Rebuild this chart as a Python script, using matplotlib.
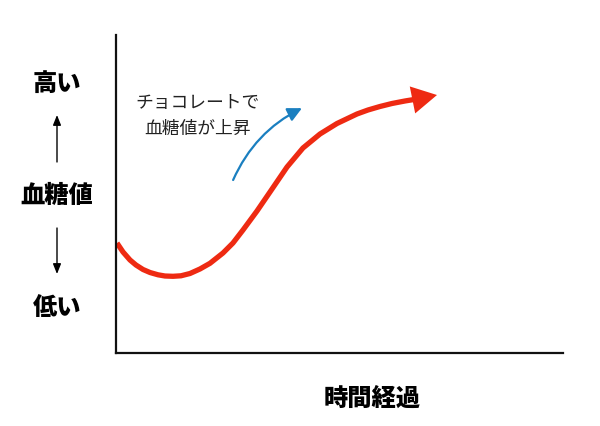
import matplotlib.pyplot as plt
from matplotlib.patches import FancyArrowPatch

plt.rcParams['font.family'] = ['Noto Sans CJK JP', 'DejaVu Sans']

# red curve: time (0-100) vs blood sugar (0-100)
curve_t = [0.22, 1.57, 3.13, 4.47, 6.04, 7.61, 9.40, 10.96, 12.75, 14.54, 16.55, 18.79, 21.03,
           23.94, 26.17, 28.41, 31.54, 34.45, 38.26, 41.83, 45.64, 49.44, 53.91, 56.38, 59.06,
           61.74, 64.65, 67.34]
curve_g = [34.59, 31.76, 29.25, 27.67, 26.26, 25.31, 24.59, 24.21, 24.12, 24.28, 25.0, 26.42, 28.21,
           31.45, 34.59, 38.68, 44.65, 50.63, 58.49, 64.47, 68.87, 72.17, 75.16, 76.42, 77.52,
           78.46, 79.25, 79.87]
curve_tip = (71.81, 81.13)

# blue arrow
blue_start = (26.2, 54.4)
blue_end = (41.6, 77.0)

note_text = 'チョコレートで\n血糖値が上昇'
x_label = '時間経過'
y_labels = ['高い', '血糖値', '低い']

red = '#ee2a12'
blue = '#1a7fc0'

fig = plt.figure(figsize=(6, 4.26), dpi=100)
ax = fig.add_axes([116 / 600, 73 / 426, 447 / 600, 318 / 426])
ax.set_xlim(0, 100)
ax.set_ylim(0, 100)
for s in ['top', 'right']:
    ax.spines[s].set_visible(False)
for s in ['left', 'bottom']:
    ax.spines[s].set_linewidth(1.6)
    ax.spines[s].set_color('#111111')
ax.set_xticks([])
ax.set_yticks([])

ax.plot(curve_t, curve_g, color=red, lw=3.8, solid_capstyle='butt', solid_joinstyle='round')
ax.annotate('', xy=curve_tip, xytext=(curve_t[-1], curve_g[-1]),
            arrowprops=dict(arrowstyle='-|>,head_length=1.0,head_width=0.55',
                            mutation_scale=18, color=red, lw=0, shrinkA=0, shrinkB=0))

ax.annotate('', xy=blue_end, xytext=blue_start,
            arrowprops=dict(arrowstyle='-|>,head_length=0.6,head_width=0.3',
                            mutation_scale=14, color=blue, lw=1.6,
                            connectionstyle='arc3,rad=-0.18', shrinkA=0, shrinkB=0))

ax.text(18.2, 74.5, note_text, ha='center', va='center', fontsize=12.8,
        color='#222222', linespacing=1.55)

fig.text(372 / 600, 1 - 399 / 426, x_label, ha='center', va='center',
         fontsize=17.5, fontweight='heavy')
ys = [84, 196, 308]
for lab, y in zip(y_labels, ys):
    fig.text(57 / 600, 1 - y / 426, lab, ha='center', va='center',
             fontsize=17.5, fontweight='heavy')

for y0, y1 in [(162, 115), (228, 274)]:
    fig.add_artist(FancyArrowPatch(
        (57 / 600, 1 - y0 / 426), (57 / 600, 1 - y1 / 426), transform=fig.transFigure,
        arrowstyle='-|>,head_length=0.5,head_width=0.2', mutation_scale=12,
        color='black', lw=1, shrinkA=0, shrinkB=0))

fig.savefig('out.png', dpi=100, facecolor='white')
